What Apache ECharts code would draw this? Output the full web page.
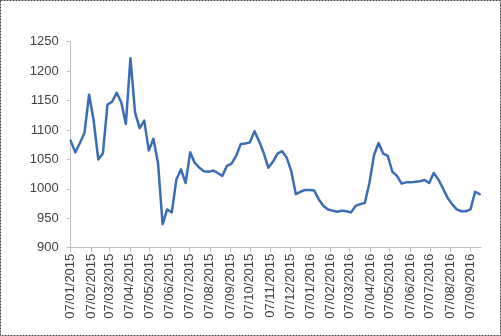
<!DOCTYPE html>
<html>
<head>
<meta charset="utf-8">
<script src="https://cdn.jsdelivr.net/npm/echarts@6/dist/echarts.min.js"></script>
<style>html,body{margin:0;padding:0;background:#fff}#c{width:501px;height:336px}</style>
</head>
<body>
<div id="c"></div>
<script>
var dates = [
 '2015-01-07','2015-01-14','2015-01-21','2015-01-28','2015-02-04','2015-02-11','2015-02-18','2015-02-25',
 '2015-03-04','2015-03-11','2015-03-18','2015-03-25','2015-04-01','2015-04-08','2015-04-15','2015-04-22','2015-04-29',
 '2015-05-06','2015-05-13','2015-05-20','2015-05-27','2015-06-03','2015-06-10','2015-06-17','2015-06-24',
 '2015-07-01','2015-07-08','2015-07-15','2015-07-22','2015-07-29','2015-08-05','2015-08-12','2015-08-19','2015-08-26',
 '2015-09-02','2015-09-09','2015-09-16','2015-09-23','2015-09-30','2015-10-07','2015-10-14','2015-10-21','2015-10-28',
 '2015-11-04','2015-11-11','2015-11-18','2015-11-25','2015-12-02','2015-12-09','2015-12-16','2015-12-23','2015-12-30',
 '2016-01-06','2016-01-13','2016-01-20','2016-01-27','2016-02-03','2016-02-10','2016-02-17','2016-02-24',
 '2016-03-02','2016-03-09','2016-03-16','2016-03-23','2016-03-30','2016-04-06','2016-04-13','2016-04-20','2016-04-27',
 '2016-05-04','2016-05-11','2016-05-18','2016-05-25','2016-06-01','2016-06-08','2016-06-15','2016-06-22','2016-06-29',
 '2016-07-06','2016-07-13','2016-07-20','2016-07-27','2016-08-03','2016-08-10','2016-08-17','2016-08-24','2016-08-31',
 '2016-09-07','2016-09-14','2016-09-21'
];
var values = [
 1082,1062,1078,1095,1160,1116,1050,1060,1143,1148,1163,1147,1110,1222,1130,1103,1116,
 1065,1085,1044,940,965,960,1016,1033,1010,1062,1044,1036,1030,1029,1031,1027,1022,
 1039,1043,1056,1076,1077,1079,1098,1081,1061,1036,1046,1060,1064,1053,1030,991,995,998,
 998,997,982,971,965,963,961,963,962,960,971,974,976,1010,1057,1078,1060,1056,1029,1022,
 1009,1011,1011,1012,1013,1015,1010,1027,1016,1001,985,974,965,962,962,965,995,991
];
var tickDates = [
 '2015-01-07','2015-02-07','2015-03-07','2015-04-07','2015-05-07','2015-06-07','2015-07-07',
 '2015-08-07','2015-09-07','2015-10-07','2015-11-07','2015-12-07','2016-01-07','2016-02-07',
 '2016-03-07','2016-04-07','2016-05-07','2016-06-07','2016-07-07','2016-08-07','2016-09-07'
];
var yMin = 900, yMax = 1250, yStep = 50;

var DAY = 86400000;
function toDay(s){var p=s.split('-');return Math.round(Date.UTC(+p[0],+p[1]-1,+p[2])/DAY);}
function pad(n){return (n<10?'0':'')+n;}
var day0 = toDay(dates[0]);
var ticks = tickDates.map(function(s){return toDay(s)-day0;});
var seriesData = dates.map(function(d,i){return [toDay(d)-day0, values[i]];});

var chart = echarts.init(document.getElementById('c'), null, {renderer:'canvas'});
var font = 'Liberation Sans';
chart.setOption({
  animation:false,
  backgroundColor:'#ffffff',
  grid:{left:70.7,right:20,top:41.7,bottom:88.3,containLabel:false},
  xAxis:{
    type:'value',
    min:0,
    max:toDay(dates[dates.length-1])-day0+2,
    axisLine:{show:true,lineStyle:{color:'#BFBFBF',width:1}},
    axisTick:{show:true,length:4,lineStyle:{color:'#BFBFBF'},customValues:ticks},
    splitLine:{show:false},
    axisLabel:{
      customValues:ticks,
      rotate:90,margin:6,color:'#404040',fontFamily:font,fontSize:13,
      hideOverlap:false,showMinLabel:true,showMaxLabel:true,
      formatter:function(v){var d=new Date((v+day0)*DAY);return pad(d.getUTCDate())+'/'+pad(d.getUTCMonth()+1)+'/'+d.getUTCFullYear();}
    }
  },
  yAxis:{
    type:'value',min:yMin,max:yMax,interval:yStep,
    axisLine:{show:true,lineStyle:{color:'#BFBFBF',width:1}},
    axisTick:{show:true,length:4,lineStyle:{color:'#BFBFBF'}},
    splitLine:{show:false},
    axisLabel:{color:'#404040',fontFamily:font,fontSize:13,margin:12,formatter:function(v){return String(v);}}
  },
  series:[{
    type:'line',data:seriesData,showSymbol:false,symbol:'none',
    lineStyle:{color:'#3A6DB5',width:2.5,join:'round',cap:'round'}
  }],
  graphic:[{
    type:'rect',silent:true,z:100,
    shape:{x:0.5,y:0.5,width:500,height:335},
    style:{fill:null,stroke:'#404040',lineWidth:1,lineDash:[2,1]}
  }]
});
</script>
</body>
</html>
